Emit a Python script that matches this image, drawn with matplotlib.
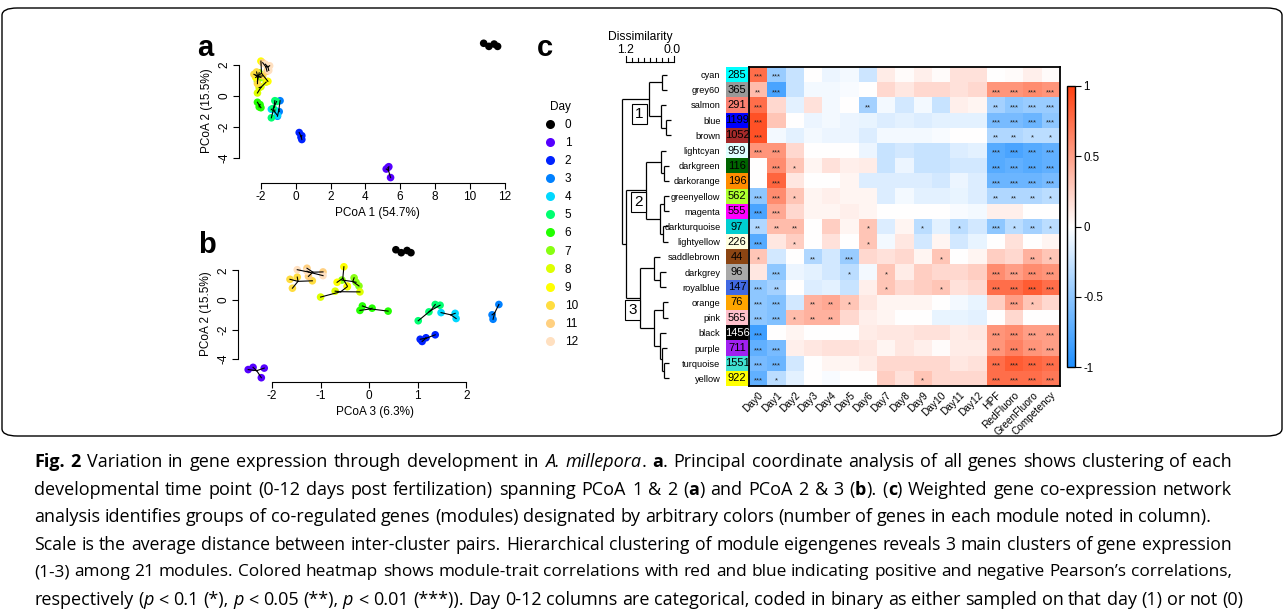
import numpy as np
import matplotlib
matplotlib.use("Agg")
import matplotlib.pyplot as plt
from matplotlib.colors import LinearSegmentedColormap, Normalize
from matplotlib.cm import ScalarMappable
from matplotlib.lines import Line2D
from matplotlib.patches import FancyBboxPatch
import matplotlib.transforms as mtransforms

plt.rcParams['font.family'] = ['Liberation Sans', 'DejaVu Sans']
plt.rcParams['axes.unicode_minus'] = False

# ---------------- PCoA data ----------------
days = list(range(13))
day_colors = ['#000000', '#5500FF', '#0022FF', '#0080FF', '#00D8FF', '#00FF70',
              '#22FF00', '#88FF11', '#DDFF00', '#FFFF00', '#FFDD40', '#FFD080', '#FFE0C0']
pc1 = [[10.8, 11.1, 11.4, 11.6], [5.2, 5.35, 5.3, 5.45], [0.2, 0.35, 0.35, 0.3],
       [-0.9, -0.95, -1.05], [-1.4, -1.2, -1.05], [-1.2, -1.1, -1.3, -1.4],
       [-2.2, -2.05, -2.0, -2.1], [-2.3, -2.1, -2.0, -2.2], [-2.2, -2.0, -1.7, -2.1],
       [-2.0, -2.3, -1.6], [-2.4, -2.25, -2.2, -1.9], [-1.9, -1.6, -1.65], [-1.75, -1.5, -1.55]]
pc2 = [[3.4, 3.2, 3.35, 3.2], [-4.7, -4.55, -4.6, -5.25], [-2.35, -2.55, -2.8, -2.65],
       [-0.3, -1.0, -1.3], [-0.85, -0.9, -1.25], [-0.3, -0.35, -0.8, -1.4],
       [-0.4, -0.55, -0.75, -0.7], [1.35, 1.5, 1.2, 0.95], [0.2, 0.6, 0.9, 0.55],
       [2.25, 1.2, 0.95], [1.4, 1.55, 0.8, 1.3], [2.15, 1.9, 1.6], [2.05, 1.95, 1.65]]
pc3 = [[0.55, 0.66, 0.78, 0.86], [-2.49, -2.39, -2.16, -2.22], [1.36, 1.17, 1.09, 1.05],
       [2.67, 2.53, 2.55], [1.48, 1.77, 1.79], [1.36, 1.46, 1.23, 1.01],
       [-0.14, 0.06, 0.39, -0.19], [-0.56, -0.31, -0.27, -0.21], [-1.0, -0.7, -0.45, -0.19],
       [-0.52, -0.66, -0.45], [-1.63, -1.48, -1.58, -1.17], [-1.28, -0.95, -1.25], [-1.48, -1.28, -0.95]]

# ---------------- WGCNA data ----------------
modules = ['cyan', 'grey60', 'salmon', 'blue', 'brown', 'lightcyan', 'darkgreen', 'darkorange',
           'greenyellow', 'magenta', 'darkturquoise', 'lightyellow', 'saddlebrown', 'darkgrey',
           'royalblue', 'orange', 'pink', 'black', 'purple', 'turquoise', 'yellow']
module_colors = ['#00FFFF', '#999999', '#FA8072', '#0000FF', '#A52A2A', '#E0FFFF', '#006400',
                 '#FF8C00', '#ADFF2F', '#FF00FF', '#00CED1', '#FFFFE0', '#8B4513', '#A9A9A9',
                 '#4169E1', '#FFA500', '#FFC0CB', '#000000', '#A020F0', '#40E0D0', '#FFFF00']
module_sizes = [285, 365, 291, 1199, 1052, 959, 116, 196, 562, 555, 97, 226, 44, 96, 147, 76,
                565, 1456, 711, 1551, 922]
traits = ['Day0', 'Day1', 'Day2', 'Day3', 'Day4', 'Day5', 'Day6', 'Day7', 'Day8', 'Day9', 'Day10',
          'Day11', 'Day12', 'HPF', 'RedFluoro', 'GreenFluoro', 'Competency']
corr = [
    [0.75, -0.45, -0.25, 0.0, -0.08, -0.05, -0.22, 0.1, 0.02, 0.08, 0.02, 0.15, 0.15, 0.0, 0.02, 0.08, 0.02],
    [0.35, -0.8, -0.25, -0.05, -0.05, -0.03, 0.0, 0.2, 0.12, 0.2, 0.2, 0.15, 0.2, 0.55, 0.55, 0.6, 0.55],
    [0.75, 0.2, -0.12, 0.15, -0.05, 0.0, -0.4, -0.05, -0.2, -0.05, -0.25, 0.08, 0.05, -0.4, -0.5, -0.45, -0.45],
    [0.9, 0.3, 0.0, -0.08, -0.05, -0.08, -0.1, -0.15, -0.12, -0.15, -0.12, -0.12, -0.12, -0.6, -0.6, -0.65, -0.5],
    [0.9, -0.05, -0.12, -0.05, -0.08, -0.08, -0.15, -0.05, -0.05, -0.05, -0.03, 0.0, 0.0, -0.35, -0.35, -0.3, -0.3],
    [0.55, 0.55, 0.2, 0.0, 0.0, 0.0, -0.08, -0.25, -0.2, -0.25, -0.25, -0.15, -0.12, -0.75, -0.8, -0.75, -0.7],
    [0.0, 0.6, 0.3, 0.05, 0.15, 0.08, 0.1, -0.25, -0.08, -0.25, -0.25, -0.2, -0.2, -0.75, -0.7, -0.75, -0.7],
    [0.0, 0.8, 0.12, 0.0, 0.0, 0.05, -0.15, -0.15, -0.15, -0.15, -0.2, -0.08, -0.15, -0.65, -0.65, -0.65, -0.6],
    [-0.5, 0.6, 0.3, 0.05, 0.08, 0.05, 0.05, -0.15, -0.05, -0.12, -0.12, -0.1, -0.15, -0.35, -0.35, -0.35, -0.3],
    [-0.8, 0.45, 0.2, 0.05, 0.05, 0.08, 0.05, 0.0, 0.0, 0.0, 0.0, -0.03, -0.05, 0.08, 0.08, 0.0, 0.0],
    [-0.35, 0.35, 0.35, 0.0, 0.25, 0.05, 0.3, -0.15, 0.05, -0.3, -0.12, -0.3, -0.2, -0.5, -0.3, -0.4, -0.3],
    [-0.75, 0.12, 0.25, 0.0, 0.15, 0.0, 0.3, -0.05, 0.12, -0.2, 0.05, -0.2, -0.1, 0.0, 0.15, 0.0, 0.05],
    [0.3, -0.2, 0.0, -0.35, -0.2, -0.45, 0.2, 0.15, 0.2, 0.05, 0.3, 0.0, 0.05, 0.25, 0.2, 0.4, 0.3],
    [0.12, -0.5, -0.08, -0.12, -0.2, -0.3, -0.05, 0.3, 0.1, 0.25, 0.2, 0.2, 0.25, 0.6, 0.5, 0.6, 0.55],
    [-0.5, -0.4, 0.0, -0.15, -0.12, -0.25, 0.08, 0.3, 0.2, 0.25, 0.3, 0.15, 0.2, 0.75, 0.75, 0.85, 0.75],
    [-0.5, -0.55, -0.2, 0.4, 0.45, 0.3, 0.12, 0.05, 0.05, 0.05, 0.0, -0.05, -0.1, 0.25, 0.5, 0.3, 0.2],
    [-0.5, -0.55, 0.35, 0.4, 0.4, 0.2, 0.08, 0.05, 0.0, 0.0, -0.1, -0.1, -0.12, 0.0, 0.2, 0.0, 0.0],
    [-0.85, 0.0, 0.05, 0.0, 0.0, 0.0, 0.1, 0.12, 0.12, 0.15, 0.15, 0.1, 0.12, 0.55, 0.6, 0.5, 0.5],
    [-0.7, -0.6, 0.08, 0.12, 0.15, 0.15, 0.12, 0.05, 0.12, 0.08, 0.02, 0.1, 0.1, 0.55, 0.65, 0.55, 0.5],
    [-0.6, -0.65, -0.2, 0.0, 0.05, 0.05, 0.1, 0.2, 0.2, 0.2, 0.2, 0.12, 0.15, 0.75, 0.85, 0.8, 0.75],
    [-0.7, -0.3, -0.12, 0.0, -0.03, 0.0, 0.0, 0.25, 0.15, 0.3, 0.2, 0.2, 0.2, 0.75, 0.75, 0.75, 0.7],
]
stars = [
    [3, 3, 0, 0, 0, 0, 0, 0, 0, 0, 0, 0, 0, 0, 0, 0, 0],
    [2, 3, 0, 0, 0, 0, 0, 0, 0, 0, 0, 0, 0, 3, 3, 3, 3],
    [3, 0, 0, 0, 0, 0, 2, 0, 0, 0, 0, 0, 0, 2, 3, 3, 3],
    [3, 0, 0, 0, 0, 0, 0, 0, 0, 0, 0, 0, 0, 3, 3, 3, 3],
    [3, 0, 0, 0, 0, 0, 0, 0, 0, 0, 0, 0, 0, 2, 2, 1, 1],
    [3, 3, 0, 0, 0, 0, 0, 0, 0, 0, 0, 0, 0, 3, 3, 3, 3],
    [0, 3, 1, 0, 0, 0, 0, 0, 0, 0, 0, 0, 0, 3, 3, 3, 3],
    [0, 3, 0, 0, 0, 0, 0, 0, 0, 0, 0, 0, 0, 3, 3, 3, 3],
    [3, 3, 1, 0, 0, 0, 0, 0, 0, 0, 0, 0, 0, 2, 2, 2, 1],
    [3, 3, 0, 0, 0, 0, 0, 0, 0, 0, 0, 0, 0, 0, 0, 0, 0],
    [2, 2, 2, 0, 0, 0, 1, 0, 0, 1, 0, 1, 0, 3, 1, 2, 1],
    [3, 0, 1, 0, 0, 0, 1, 0, 0, 0, 0, 0, 0, 0, 0, 0, 0],
    [1, 0, 0, 2, 0, 3, 0, 0, 0, 0, 1, 0, 0, 0, 0, 2, 1],
    [0, 3, 0, 0, 0, 1, 0, 1, 0, 0, 0, 0, 0, 3, 3, 3, 3],
    [3, 2, 0, 0, 0, 0, 0, 1, 0, 0, 1, 0, 0, 3, 3, 3, 3],
    [3, 3, 0, 2, 2, 1, 0, 0, 0, 0, 0, 0, 0, 0, 3, 1, 0],
    [3, 3, 1, 2, 2, 0, 0, 0, 0, 0, 0, 0, 0, 0, 0, 0, 0],
    [3, 0, 0, 0, 0, 0, 0, 0, 0, 0, 0, 0, 0, 3, 3, 3, 3],
    [3, 3, 0, 0, 0, 0, 0, 0, 0, 0, 0, 0, 0, 3, 3, 3, 3],
    [3, 3, 0, 0, 0, 0, 0, 0, 0, 0, 0, 0, 0, 3, 3, 3, 3],
    [3, 1, 0, 0, 0, 0, 0, 0, 0, 1, 0, 0, 0, 3, 3, 3, 3],
]
# dendrogram merges: (node, left, right, height)
merges = [
    ('m1', 'cyan', 'grey60', 0.30), ('m2', 'blue', 'brown', 0.20), ('m3', 'salmon', 'm2', 0.32),
    ('m4', 'm1', 'm3', 0.63),
    ('m5', 'darkgreen', 'darkorange', 0.25), ('m6', 'lightcyan', 'm5', 0.32),
    ('m7', 'greenyellow', 'magenta', 0.25), ('m8', 'darkturquoise', 'lightyellow', 0.27),
    ('m9', 'm7', 'm8', 0.35), ('m10', 'm6', 'm9', 0.70),
    ('m11', 'darkgrey', 'royalblue', 0.34), ('m12', 'saddlebrown', 'm11', 0.49),
    ('m13', 'orange', 'pink', 0.27), ('m14', 'turquoise', 'yellow', 0.25),
    ('m15', 'purple', 'm14', 0.30), ('m16', 'black', 'm15', 0.34), ('m17', 'm13', 'm16', 0.49),
    ('m18', 'm12', 'm17', 0.85),
    ('m19', 'm10', 'm18', 1.20), ('m20', 'm4', 'm19', 1.30),
]
cluster_labels = ['1', '2', '3']

# ---------------- figure ----------------
W, H = 1284, 613
fig = plt.figure(figsize=(W / 100, H / 100), dpi=100)


def axes_px(x0, y0, x1, y1):
    return fig.add_axes([x0 / W, 1 - y1 / H, (x1 - x0) / W, (y1 - y0) / H])


# outer rounded frame
frame = FancyBboxPatch((2 / W, 1 - 436 / H), (W - 4) / W, (436 - 8) / H,
                       boxstyle="round,pad=0,rounding_size=0.012", transform=fig.transFigure,
                       fill=False, edgecolor='black', lw=1.0)
fig.patches.append(frame)


def pcoa_panel(ax, xs_all, ys_all, xlim, ylim, xb, yb, xticks, xlabel):
    for d in days:
        xs, ys = np.array(xs_all[d]), np.array(ys_all[d])
        cx, cy = xs.mean(), ys.mean()
        ax.scatter(xs, ys, s=30, color=day_colors[d], edgecolors='none', zorder=3)
        for x, y in zip(xs, ys):
            ax.plot([cx, x], [cy, y], color='black', lw=0.8, zorder=4)
    ax.set_xlim(*xlim)
    ax.set_ylim(*ylim)
    ax.spines[['top', 'right']].set_visible(False)
    ax.spines['left'].set_bounds(*yb)
    ax.spines['bottom'].set_bounds(*xb)
    ax.set_xticks(xticks)
    ax.set_yticks([-4, -2, 0, 2])
    ax.tick_params(direction='out', length=4, width=0.8, labelsize=8.5, pad=2)
    ax.tick_params(axis='y', labelrotation=90)
    for t in ax.get_yticklabels():
        t.set_va('center')
    ax.set_xlabel(xlabel, fontsize=8.5, labelpad=3)
    ax.set_ylabel('PCoA 2 (15.5%)', fontsize=8.5, labelpad=4)
    ax.patch.set_alpha(0)


ax_a = axes_px(239, 38, 515, 183)
pcoa_panel(ax_a, pc1, pc2, (-3.26, 12.6), (-5.6, 3.74), (-2, 12), (-4, 2),
           list(range(-2, 13, 2)), 'PCoA 1 (54.7%)')
ax_b = axes_px(238, 245, 512, 382)
pcoa_panel(ax_b, pc3, pc2, (-2.70, 2.94), (-5.54, 3.72), (-2, 2), (-4, 2),
           [-2, -1, 0, 1, 2], 'PCoA 3 (6.3%)')

# legend
handles = [Line2D([], [], marker='o', ls='none', color=c, markersize=6.5, markeredgewidth=0)
           for c in day_colors]
leg = fig.legend(handles, [str(d) for d in days], title='Day', loc='upper left',
                 bbox_to_anchor=(538 / W, 1 - 95 / H), frameon=False, fontsize=8.5,
                 title_fontsize=8.5, labelspacing=0.515, handletextpad=0.75, handlelength=1.0,
                 borderpad=0)

# panel letters
for lab, (px, py) in zip(['a', 'b', 'c'], [(197, 56), (198, 253), (537, 56)]):
    fig.text(px / W, 1 - py / H, lab, fontsize=21, fontweight='bold', ha='left', va='baseline')

# ---------------- heatmap ----------------
cmap = LinearSegmentedColormap.from_list('bwr_r', ['#1E8FFF', '#FFFFFF', '#FF4010'])
n_rows, n_cols = len(modules), len(traits)
hm_top, hm_bot = 67, 386
ax_h = axes_px(749, hm_top, 1060, hm_bot)
ax_h.imshow(np.array(corr), cmap=cmap, vmin=-1, vmax=1, aspect='auto', interpolation='nearest')
for i in range(n_rows):
    for j in range(n_cols):
        if stars[i][j]:
            ax_h.text(j, i + 0.18, '*' * stars[i][j], ha='center', va='center', fontsize=5.5,
                      color='#222222')
ax_h.set_yticks([])
ax_h.set_xticks(range(n_cols))
ax_h.set_xticklabels(traits, rotation=45, ha='right', rotation_mode='anchor', fontsize=7.3)
ax_h.tick_params(axis='x', length=0, pad=3)
for s in ax_h.spines.values():
    s.set_linewidth(1.3)

# module colour column
ax_m = axes_px(726, hm_top, 748, hm_bot)
ax_m.barh(range(n_rows), [1] * n_rows, height=1.0, color=module_colors, edgecolor='none')
for i, (n, c) in enumerate(zip(module_sizes, module_colors)):
    ax_m.text(0.5, i, str(n), ha='center', va='center', fontsize=8,
              color='white' if c == '#000000' else 'black', clip_on=False)
ax_m.set_xlim(0, 1)
ax_m.set_ylim(n_rows - 0.5, -0.5)
ax_m.set_xticks([])
ax_m.set_yticks(range(n_rows))
ax_m.set_yticklabels(modules, fontsize=6.7)
ax_m.tick_params(axis='y', length=0, pad=4)
for s in ax_m.spines.values():
    s.set_visible(False)

# dendrogram
ax_d = axes_px(610, hm_top, 674, hm_bot)
ax_d.set_xlim(1.6, 0)
ax_d.set_ylim(n_rows - 0.5, -0.5)
ax_d.axis('off')
node_y = {m: i for i, m in enumerate(modules)}
node_h = {}
hang = 0.13
for node, l, r, h in merges:
    for ch in (l, r):
        ch_h = node_h.get(ch, h - hang)
        ax_d.plot([h, ch_h], [node_y[ch]] * 2, color='black', lw=0.9, solid_capstyle='butt')
    ax_d.plot([h, h], [node_y[l], node_y[r]], color='black', lw=0.9, solid_capstyle='butt')
    node_y[node] = (node_y[l] + node_y[r]) / 2
    node_h[node] = h

# cluster boxes
box_pos = [(639.5, 114), (638.5, 202), (632.5, 310)]
for lab, (bx, by) in zip(cluster_labels, box_pos):
    fig.text(bx / W, 1 - by / H, lab, ha='center', va='center', fontsize=11,
             bbox=dict(boxstyle='square,pad=0.2', fc='white', ec='black', lw=0.8))

# dissimilarity scale
tr = mtransforms.blended_transform_factory(ax_d.transData, fig.transFigure)
sy = 1 - 62 / H
ax_d.plot([1.2, 0.0], [sy, sy], color='black', lw=0.8, transform=tr, clip_on=False)
for k, v in enumerate(np.linspace(1.2, 0, 9)):
    tl = 6 if k in (0, 8) else 4
    ax_d.plot([v, v], [sy, sy + tl / H], color='black', lw=0.8, transform=tr, clip_on=False)
ax_d.text(1.2, 1 - 50 / H, '1.2', ha='center', va='center', fontsize=8.7, transform=tr)
ax_d.text(0.05, 1 - 50 / H, '0.0', ha='center', va='center', fontsize=8.7, transform=tr)
ax_d.text(0.83, 1 - 37 / H, 'Dissimilarity', ha='center', va='center', fontsize=8.7, transform=tr)

# colorbar
cax = axes_px(1067, 86, 1075, 367)
cb = fig.colorbar(ScalarMappable(norm=Normalize(-1, 1), cmap=cmap), cax=cax,
                  ticks=[-1, -0.5, 0, 0.5, 1])
cb.ax.set_yticklabels(['-1', '-0.5', '0', '0.5', '1'])
cb.ax.tick_params(labelsize=8.3, length=4, width=0.8, pad=2)
cb.outline.set_linewidth(1.0)

# ---------------- caption ----------------
fig.canvas.draw()
renderer = fig.canvas.get_renderer()
cap_font = 'Open Sans'
cap_size = 12.95


def _props(style, size):
    return dict(fontsize=size, family=cap_font,
                fontweight='bold' if 'b' in style else 'normal',
                fontstyle='italic' if 'i' in style else 'normal')


def _width(s, style, size):
    t = fig.text(0, 0, s, **_props(style, size))
    w = t.get_window_extent(renderer).width
    t.remove()
    return w


caption = [
    [('Fig. 2', 'b'), (' Variation in gene expression through development in ', ''),
     ('A. millepora', 'i'), ('. ', ''), ('a', 'b'),
     ('. Principal coordinate analysis of all genes shows clustering of each', '')],
    [('developmental time point (0-12 days post fertilization) spanning PCoA 1 & 2 (', ''),
     ('a', 'b'), (') and PCoA 2 & 3 (', ''), ('b', 'b'), ('). (', ''), ('c', 'b'),
     (') Weighted gene co-expression network', '')],
    [('analysis identifies groups of co-regulated genes (modules) designated by arbitrary colors '
      '(number of genes in each module noted in column).', '')],
    [('Scale is the average distance between inter-cluster pairs. Hierarchical clustering of '
      'module eigengenes reveals 3 main clusters of gene expression', '')],
    [('(1-3) among 21 modules. Colored heatmap shows module-trait correlations with red and blue '
      'indicating positive and negative Pearson\u2019s correlations,', '')],
    [('respectively (', ''), ('p', 'i'), (' < 0.1 (*), ', ''), ('p', 'i'), (' < 0.05 (**), ', ''),
     ('p', 'i'), (' < 0.01 (***)). Day 0-12 columns are categorical, coded in binary as either '
      'sampled on that day (1) or not (0)', '')],
]
line_y = [462, 489.6, 517.2, 544.8, 572.4, 600]
justify = [True, True, False, True, True, False]
x_start, x_end = 34.0, 1232.0


def tokenize(runs, size):
    sw = {st: _width('x x', st, size) - _width('xx', st, size) for st in ('', 'b', 'i')}
    toks = []
    for s, st in runs:
        parts = s.split(' ')
        for k, p in enumerate(parts):
            if k > 0:
                toks.append(['gap', '', st, sw[st]])
            if p:
                toks.append(['word', p, st, _width(p, st, size)])
    return toks


for runs, ly, just in zip(caption, line_y, justify):
    size = cap_size
    tokens = tokenize(runs, size)
    natural = sum(t[3] for t in tokens)
    n_gaps = sum(1 for t in tokens if t[0] == 'gap')
    if just and natural > (x_end - x_start) - 0.4 * n_gaps:
        size = cap_size * ((x_end - x_start) - 0.4 * n_gaps) / natural
        tokens = tokenize(runs, size)
        natural = sum(t[3] for t in tokens)
    extra = (x_end - x_start - natural) / max(n_gaps, 1) if just else 0.0
    x = x_start
    for kind, p, st, w in tokens:
        if kind == 'gap':
            x += w + extra
        else:
            fig.text(x / W, 1 - ly / H, p, va='center', ha='left', **_props(st, size))
            x += w

fig.savefig('out.png', dpi=100)
